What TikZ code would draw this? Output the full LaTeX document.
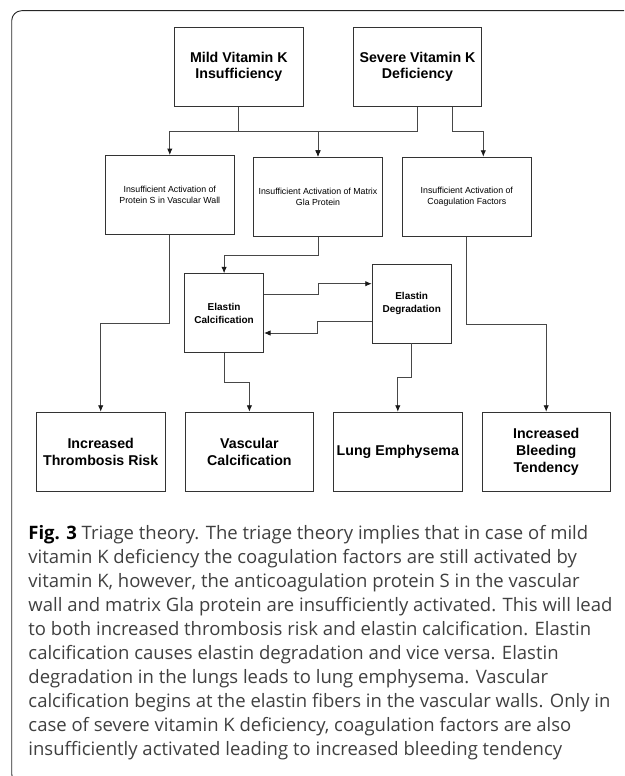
\documentclass[tikz,border=0pt]{standalone}
\usepackage{fontspec}
\setmainfont{Liberation Sans}
\newfontfamily\capfont{Open Sans}
\usetikzlibrary{positioning}
\usetikzlibrary{arrows.meta}

\begin{document}
\begin{tikzpicture}[x=1pt, y=-1pt, line width=0.9pt,
    main/.style = {draw=black!80, rectangle, minimum width=128.5pt, minimum height=79pt, inner sep=2pt, align=center, font=\fontsize{14.2}{16.7}\selectfont\bfseries},
    mid/.style = {main, font=\fontsize{8.8}{10.4}\selectfont},
    small/.style = {main, minimum width=79pt, font=\fontsize{10}{13}\selectfont\bfseries},
    link/.style = {draw=black!72, -{Latex[length=6.5pt, width=5.5pt, color=black!90]}}]
            \useasboundingbox (0,0) rectangle (624,776);
            \clip (0,0) rectangle (624,776);
            % Frame
            \draw[black!85, rounded corners=10pt] (630,10.7) -- (11.7,10.7) -- (11.7,784) -- (630,784);
            % Nodes
            \node[main] (1) at (238.8,66.8) {Mild Vitamin K\\Insufficiency};
            \node[main] (2) [right=49.3pt of 1] {Severe Vitamin K\\Deficiency};
            \node[mid] (3) at (169.8,195) {Insufficient Activation of\\Protein S in Vascular Wall};
            \node[mid] (4) at (318,196.7) {Insufficient Activation of Matrix\\Gla Protein};
            \node[mid] (5) [right=19.4pt of 4] {Insufficient Activation of\\Coagulation Factors};
            \node[small] (6) at (224.1,313.2) {Elastin\\Calcification};
            \node[small] (7) at (411.7,303.5) {Elastin\\Degradation};
            \node[main] (8) at (100.7,451.7) {Increased\\Thrombosis Risk};
            \node[main] (9) [right=19.3pt of 8] {Vascular\\Calcification};
            \node[main] (10) [right=19pt of 9] {Lung Emphysema};
            \node[main] (11) [right=19pt of 10] {Increased\\Bleeding\\Tendency};
            \coordinate (bus) at (0,131);
            % Edges
            \draw[link] (1.south) -- (1.south |- bus) -| (3.north);
            \draw[link] (1.south) -- (1.south |- bus) -| (4.north);
            \draw[link] (2.south) -- (2.south |- bus) -| (4.north);
            \draw[link] ([xshift=34.5pt]2.south) -- ([xshift=34.5pt]2.south |- bus) -| ([xshift=16.5pt]5.north);
            \draw[link] (3.south) -- ++(0,88.6) -| (8.north);
            \draw[link] (4.south) -- ++(0,18.4) -| (6.north);
            \draw[link] ([yshift=19.2pt]6.east) -- ++(54,0) |- ([yshift=19.8pt]7.west);
            \draw[link] ([yshift=-18.2pt]7.west) -- ++(-54.3,0) |- ([yshift=-19.8pt]6.east);
            \draw[link] (6.south) -- ++(0,29.3) -| (9.north);
            \draw[link] (7.south) -- ++(0,34.3) -| (10.north);
            \draw[link] (5.south) -- ++(0,87.7) -| (11.north);
            % Caption
            \node[anchor=north west, align=left, inner sep=0pt, text=black!75, font=\capfont\fontsize{18.5}{24}\selectfont] (12) at (28,525) {\textcolor{black}{\textbf{Fig. 3}} Triage theory. The triage theory implies that in case of mild\\
vitamin K deficiency the coagulation factors are still activated by\\
vitamin K, however, the anticoagulation protein S in the vascular\\
wall and matrix Gla protein are insufficiently activated. This will lead\\
to both increased thrombosis risk and elastin calcification. Elastin\\
calcification causes elastin degradation and vice versa. Elastin\\
degradation in the lungs leads to lung emphysema. Vascular\\
calcification begins at the elastin fibers in the vascular walls. Only in\\
case of severe vitamin K deficiency, coagulation factors are also\\
insufficiently activated leading to increased bleeding tendency};
\end{tikzpicture}
\end{document}
